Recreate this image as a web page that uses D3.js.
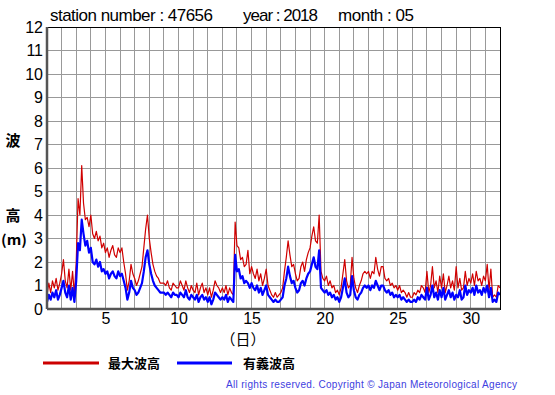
<!DOCTYPE html>
<html>
<head>
<meta charset="utf-8">
<script src="https://cdn.jsdelivr.net/npm/d3@7"></script>
<style>
  body { margin: 0; background: #fff; }
  svg { display: block; }
</style>
</head>
<body>
<svg id="chart" width="555" height="395"></svg>
<script>
// 3-hourly readings, day 1 00:00 .. day 32 00:00 (8 per day)
const maxWave = [
  0.6, 1.1, 0.7, 1.2, 0.9, 1.3, 0.8, 1.1,
  1.5, 2.1, 1.2, 0.9, 1.7, 0.8, 1.6, 0.6,
  2.0, 4.7, 4.0, 6.1, 4.5, 3.8, 3.9, 3.5,
  4.0, 3.2, 3.0, 3.3, 2.9, 3.1, 2.6, 2.8,
  2.4, 2.6, 2.2, 2.5, 2.7, 2.3, 2.2, 2.6,
  2.4, 2.6, 2.0, 1.5, 0.8, 1.2, 1.9, 1.5,
  1.3, 1.0, 1.2, 1.5, 1.8, 2.6, 3.4, 4.0,
  3.0, 2.4, 1.9, 1.6, 1.4, 1.3, 1.1, 1.1,
  1.1, 1.0, 1.2, 0.9, 0.8, 1.1, 1.0, 0.9,
  0.9, 1.2, 1.0, 0.8, 1.2, 0.9, 0.7, 1.0,
  0.8, 0.7, 1.1, 0.6, 0.9, 1.1, 0.7, 0.9,
  0.6, 0.9, 0.5, 0.8, 1.2, 1.0, 0.9, 0.7,
  0.9, 0.7, 1.0, 0.6, 0.9, 0.7, 0.6, 3.7,
  2.7, 2.6, 2.1, 2.2, 1.8, 1.9, 2.5, 1.5,
  1.8, 1.5, 1.3, 1.7, 1.2, 1.5, 1.0, 1.3,
  1.7, 1.0, 0.8, 0.6, 0.5, 0.7, 0.5, 0.6,
  0.7, 0.9, 1.6, 2.2, 2.9, 2.3, 1.8, 1.9,
  1.5, 1.2, 1.3, 1.8, 2.0, 1.6, 2.1, 2.4,
  2.6, 3.1, 3.5, 2.9, 2.8, 4.0, 1.6, 1.3,
  1.2, 1.4, 1.0, 1.2, 0.9, 1.0, 0.7, 0.8,
  0.6, 0.9, 1.5, 2.1, 1.2, 0.9, 1.0, 2.2,
  1.3, 0.9, 0.7, 1.0, 1.2, 1.5, 1.6, 1.5,
  1.6, 1.3, 1.6, 1.5, 2.2, 1.7, 1.4, 1.8,
  1.8, 1.3, 1.2, 1.3, 1.0, 1.1, 0.9, 1.0,
  0.8, 1.0, 0.7, 0.8, 0.7, 0.5, 0.7, 0.5,
  0.5, 0.7, 0.6, 0.8, 0.7, 1.0, 0.9, 0.7,
  1.6, 0.7, 1.0, 1.8, 0.9, 1.2, 0.7, 1.4,
  0.9, 1.5, 0.7, 1.0, 1.4, 0.9, 1.2, 0.8,
  1.8, 0.9, 1.3, 0.8, 0.9, 1.6, 1.0, 1.3,
  1.1, 1.5, 1.0, 1.6, 1.2, 1.3, 1.0, 1.4,
  1.2, 1.9, 0.8, 1.7, 0.5, 0.6, 0.5, 1.0,
  0.9
];

const sigWave = [
  0.3, 0.6, 0.4, 0.7, 0.5, 0.8, 0.4, 0.6,
  0.9, 1.2, 0.7, 0.5, 1.0, 0.4, 0.9, 0.3,
  1.2, 2.8, 2.5, 3.8, 3.2, 2.7, 2.9, 2.4,
  2.6, 2.0, 1.9, 2.1, 1.8, 2.0, 1.6, 1.7,
  1.5, 1.6, 1.3, 1.5, 1.6, 1.4, 1.3, 1.6,
  1.4, 1.5, 1.2, 0.9, 0.4, 0.7, 1.2, 0.9,
  0.8, 0.6, 0.7, 0.9, 1.1, 1.6, 2.2, 2.5,
  1.9, 1.5, 1.2, 1.0, 0.9, 0.8, 0.7, 0.7,
  0.7, 0.6, 0.7, 0.6, 0.5, 0.7, 0.6, 0.6,
  0.5, 0.7, 0.6, 0.5, 0.8, 0.5, 0.4, 0.6,
  0.5, 0.4, 0.6, 0.3, 0.5, 0.6, 0.4, 0.5,
  0.3, 0.5, 0.2, 0.4, 0.7, 0.6, 0.5, 0.4,
  0.5, 0.4, 0.6, 0.3, 0.5, 0.4, 0.3, 2.3,
  1.6, 1.7, 1.3, 1.4, 1.1, 1.2, 1.1, 0.9,
  1.1, 0.9, 0.8, 1.0, 0.7, 0.9, 0.6, 0.8,
  1.0, 0.6, 0.5, 0.4, 0.3, 0.4, 0.3, 0.3,
  0.4, 0.5, 1.0, 1.3, 1.8, 1.4, 1.1, 1.2,
  0.9, 0.7, 0.8, 1.1, 1.2, 1.0, 1.3, 1.5,
  1.6, 1.9, 2.2, 1.8, 1.7, 2.5, 0.9, 0.8,
  0.7, 0.8, 0.6, 0.7, 0.5, 0.6, 0.4, 0.5,
  0.3, 0.5, 0.9, 1.3, 0.7, 0.5, 0.6, 1.4,
  0.8, 0.5, 0.4, 0.6, 0.7, 0.9, 1.0, 0.9,
  1.0, 0.8, 1.0, 0.9, 1.2, 1.0, 0.8, 1.0,
  1.0, 0.8, 0.7, 0.8, 0.6, 0.7, 0.5, 0.6,
  0.5, 0.6, 0.4, 0.5, 0.4, 0.3, 0.4, 0.3,
  0.3, 0.4, 0.3, 0.5, 0.4, 0.6, 0.5, 0.4,
  0.9, 0.4, 0.6, 1.0, 0.5, 0.7, 0.4, 0.8,
  0.5, 0.9, 0.4, 0.6, 0.8, 0.5, 0.7, 0.4,
  0.6, 0.5, 0.8, 0.4, 0.5, 1.0, 0.6, 0.8,
  0.7, 0.9, 0.6, 1.0, 0.7, 0.8, 0.6, 0.9,
  0.7, 1.0, 0.5, 0.9, 0.3, 0.4, 0.3, 0.7,
  0.6
];

const xTicks = [5, 10, 15, 20, 25, 30];
const yTicks = d3.range(0, 13);
const STEPS_PER_DAY = 8;

const MARGIN = { top: 27, right: 55, bottom: 86, left: 47 };
const WIDTH = 555;
const HEIGHT = 395;
const plotW = WIDTH - MARGIN.left - MARGIN.right;
const plotH = HEIGHT - MARGIN.top - MARGIN.bottom;

const svg = d3.select('#chart');
const font = 'Liberation Sans, Arial, Helvetica, sans-serif';
const cjk = '"Noto Sans CJK JP", sans-serif';

const x = d3.scaleLinear().domain([1, 32]).range([0, plotW]);
const y = d3.scaleLinear().domain([0, 12]).range([plotH, 0]);

const g = svg.append('g').attr('transform', `translate(${MARGIN.left},${MARGIN.top})`);

// grid
g.append('g')
  .selectAll('line')
  .data(d3.range(2, 32))
  .join('line')
  .attr('x1', (d) => x(d)).attr('x2', (d) => x(d))
  .attr('y1', 0).attr('y2', plotH)
  .attr('stroke', '#999').attr('stroke-width', 1)
  .attr('shape-rendering', 'crispEdges');
g.append('g')
  .selectAll('line')
  .data(d3.range(1, 12))
  .join('line')
  .attr('x1', 0).attr('x2', plotW)
  .attr('y1', (d) => y(d)).attr('y2', (d) => y(d))
  .attr('stroke', '#999').attr('stroke-width', 1)
  .attr('shape-rendering', 'crispEdges');

// series
const t = (i) => 1 + i / STEPS_PER_DAY;
const line = d3.line().x((d, i) => x(t(i))).y((d) => y(d));

g.append('path')
  .datum(maxWave)
  .attr('d', line)
  .attr('fill', 'none')
  .attr('stroke', '#d00000')
  .attr('stroke-width', 1.2)
  .attr('stroke-linejoin', 'round');

g.append('path')
  .datum(sigWave)
  .attr('d', line)
  .attr('fill', 'none')
  .attr('stroke', '#0000ff')
  .attr('stroke-width', 2.2)
  .attr('stroke-linejoin', 'round');

// frame
g.append('rect')
  .attr('width', plotW).attr('height', plotH)
  .attr('fill', 'none').attr('stroke', '#000').attr('stroke-width', 1)
  .attr('shape-rendering', 'crispEdges');
g.append('line')
  .attr('x1', 0).attr('x2', 0).attr('y1', 0).attr('y2', plotH)
  .attr('stroke', '#555').attr('stroke-width', 2.5);
g.append('line')
  .attr('x1', 0).attr('x2', plotW).attr('y1', plotH).attr('y2', plotH)
  .attr('stroke', '#555').attr('stroke-width', 2.5);

// axes (labels only)
const yAxis = g.append('g')
  .call(d3.axisLeft(y).tickValues(yTicks).tickSize(0).tickPadding(4));
yAxis.select('.domain').remove();
yAxis.selectAll('text').attr('font-family', font).attr('font-size', 16).attr('fill', '#000');

const xAxis = g.append('g')
  .attr('transform', `translate(0,${plotH})`)
  .call(d3.axisBottom(x).tickValues(xTicks).tickSize(0).tickPadding(4));
xAxis.select('.domain').remove();
xAxis.selectAll('text').attr('font-family', font).attr('font-size', 16).attr('fill', '#000');

// title
const title = svg.append('g').attr('font-family', font).attr('font-size', 17).attr('fill', '#000')
  .attr('lengthAdjust', 'spacingAndGlyphs');
title.append('text').attr('x', 50).attr('y', 21).attr('textLength', 163).text('station number : 47656');
title.append('text').attr('x', 243).attr('y', 21).attr('textLength', 75).text('year : 2018');
title.append('text').attr('x', 338).attr('y', 21).attr('textLength', 76).text('month : 05');

// y label
const yl = svg.append('g').attr('font-family', cjk).attr('font-size', 15).attr('font-weight', 'bold');
yl.append('text').attr('x', 13).attr('y', 146).attr('text-anchor', 'middle').text('波');
yl.append('text').attr('x', 13).attr('y', 221).attr('text-anchor', 'middle').text('高');
yl.append('text').attr('x', 1).attr('y', 245).attr('font-size', 14)
  .attr('textLength', 26).attr('lengthAdjust', 'spacingAndGlyphs').text('(m)');

// x label
svg.append('text')
  .attr('x', 243).attr('y', 345)
  .attr('text-anchor', 'middle')
  .attr('font-family', cjk).attr('font-size', 15)
  .text('（日）');

// legend
const legend = [
  { label: '最大波高', color: '#cc0000', x1: 43, x2: 99, tx: 108 },
  { label: '有義波高', color: '#0000ff', x1: 177, x2: 232, tx: 243 },
];
const lg = svg.append('g');
legend.forEach((d) => {
  lg.append('line')
    .attr('x1', d.x1).attr('x2', d.x2).attr('y1', 363).attr('y2', 363)
    .attr('stroke', d.color).attr('stroke-width', 3);
  lg.append('text')
    .attr('x', d.tx).attr('y', 368)
    .attr('font-family', cjk).attr('font-size', 13).attr('font-weight', 'bold')
    .text(d.label);
});

// copyright
svg.append('text')
  .attr('x', 226).attr('y', 388)
  .attr('font-family', font).attr('font-size', 10)
  .attr('fill', '#4040e0')
  .attr('textLength', 291).attr('lengthAdjust', 'spacing')
  .text('All rights reserved. Copyright © Japan Meteorological Agency');
</script>
</body>
</html>
